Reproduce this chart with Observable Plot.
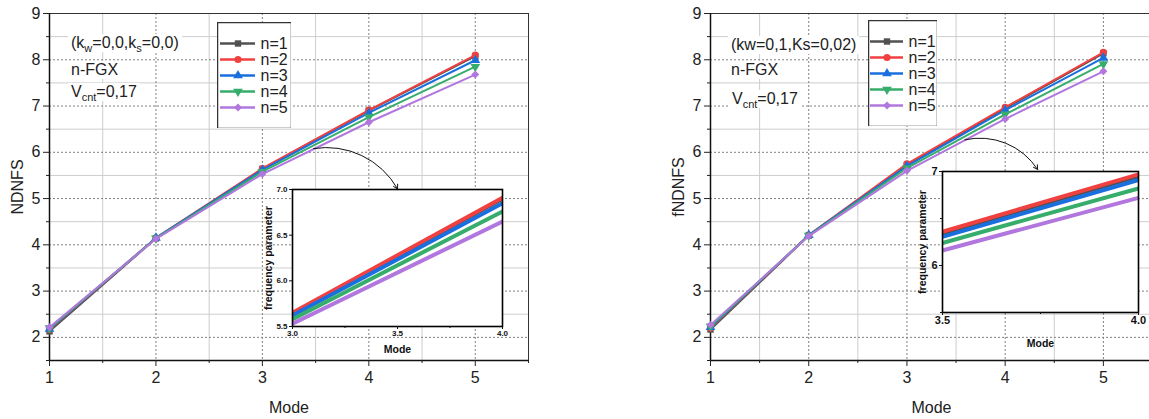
<!DOCTYPE html>
<html><head><meta charset="utf-8">
<script src="https://cdn.jsdelivr.net/npm/d3@7"></script>
<script src="https://cdn.jsdelivr.net/npm/@observablehq/plot@0.6"></script>
<style>
body{margin:0;background:#fff;}
#wrap{position:relative;width:1149px;height:419px;overflow:hidden;background:#fff;font-family:"Liberation Sans",Arial,sans-serif;}
.note{position:absolute;background:#fff;font-size:16px;line-height:18px;color:#222;padding:0 3px;white-space:nowrap;}
.note sub{font-size:11px;vertical-align:-4px;line-height:0;}
</style></head><body><div id="wrap"></div>
<script>
// ---------- data ----------
const modes = [1, 2, 3, 4, 5];
const seriesNames = ["n=1", "n=2", "n=3", "n=4", "n=5"];
const seriesColors = ["#515151", "#F14040", "#1A6FDF", "#37AD6B", "#B177DE"];
const seriesSymbols = ["square", "circle", "triangle", "triangle", "diamond2"];
const seriesRotate = [0, 0, 0, 180, 0];

// left panel: NDNFS (kw=0,0, ks=0,0)
const leftN1 = [2.13, 4.14, 5.64, 6.90, 8.08];
const leftN2 = [2.17, 4.15, 5.65, 6.91, 8.10];
const leftN3 = [2.18, 4.15, 5.62, 6.85, 7.99];
const leftN4 = [2.20, 4.14, 5.58, 6.76, 7.85];
const leftN5 = [2.22, 4.13, 5.53, 6.65, 7.68];

// right panel: fNDNFS (kw=0,1, Ks=0,02)
const rightN1 = [2.17, 4.20, 5.73, 6.95, 8.14];
const rightN2 = [2.20, 4.21, 5.75, 6.97, 8.16];
const rightN3 = [2.22, 4.21, 5.70, 6.91, 8.04];
const rightN4 = [2.24, 4.20, 5.66, 6.82, 7.91];
const rightN5 = [2.27, 4.19, 5.60, 6.72, 7.75];

// axes ticks
const majorX = [1, 2, 3, 4, 5];
const minorX = [1.5, 2.5, 3.5, 4.5, 5.5];
const majorY = [2, 3, 4, 5, 6, 7, 8, 9];
const minorY = [1.5, 2.5, 3.5, 4.5, 5.5, 6.5, 7.5, 8.5];
const mainXDomain = [1, 5.5];
const mainYDomain = [1.5, 9];

const leftInsetXTicks = [3.0, 3.5, 4.0];
const leftInsetXMinor = [3.25, 3.75];
const leftInsetYTicks = [5.5, 6.0, 6.5, 7.0];
const rightInsetXTicks = [3.5, 4.0];
const rightInsetXMinor = [3.75];
const rightInsetYTicks = [6, 7];
const rightInsetYMinor = [5.5, 6.5];

// annotation arrows (data units of each main panel)
const leftArrow = [{x1: 3.48, y1: 6.08, x2: 4.27, y2: 5.21}];
const rightArrow = [{x1: 3.59, y1: 6.27, x2: 4.33, y2: 5.63}];

// ---------- helpers ----------
const FONT = '"Liberation Sans", Arial, sans-serif';
const wrap = document.getElementById("wrap");
function place(el, left, top) {
  el.style.position = "absolute";
  el.style.left = left + "px";
  el.style.top = top + "px";
  wrap.appendChild(el);
}
function toRows(values) {
  const rows = [];
  seriesNames.forEach((s, i) => modes.forEach((m, j) => rows.push({mode: m, value: values[i][j], s, i})));
  return rows;
}

function mainPlot({width, mL, mR, values, yLabel, arrow}) {
  const rows = toRows(values);
  const seriesMarks = [];
  seriesNames.forEach((s, i) => {
    const d = rows.filter(r => r.s === s);
    seriesMarks.push(Plot.line(d, {x: "mode", y: "value", stroke: seriesColors[i], strokeWidth: 2}));
    seriesMarks.push(Plot.dot(d, {x: "mode", y: "value", fill: seriesColors[i], stroke: "none",
      symbol: seriesSymbols[i], rotate: seriesRotate[i], r: 3.6}));
  });
  return Plot.plot({
    width, height: 419,
    marginLeft: mL, marginRight: mR, marginTop: 13, marginBottom: 59,
    style: {fontFamily: FONT, fontSize: "16px", background: "transparent", color: "#222"},
    x: {domain: mainXDomain},
    y: {domain: mainYDomain},
    marks: [
      Plot.gridX(minorX, {stroke: "#cdcdcd", strokeOpacity: 1}),
      Plot.gridY(minorY, {stroke: "#cdcdcd", strokeOpacity: 1}),
      Plot.gridX(majorX, {stroke: "#808080", strokeOpacity: 1, strokeDasharray: "2,2"}),
      Plot.gridY(majorY, {stroke: "#808080", strokeOpacity: 1, strokeDasharray: "2,2"}),
      Plot.frame({stroke: "#333", strokeWidth: 1}),
      Plot.ruleX([mainXDomain[0]], {stroke: "#111", strokeWidth: 1.5}),
      Plot.ruleY([mainYDomain[0]], {stroke: "#111", strokeWidth: 1.5}),
      Plot.axisX(majorX, {tickSize: 6, tickPadding: 5, fontSize: 16, label: "Mode", labelAnchor: "center", labelArrow: "none", labelOffset: 52}),
      Plot.axisX(minorX, {tickSize: 3, text: null, label: null}),
      Plot.axisY(majorY, {tickSize: 6, tickPadding: 3, fontSize: 16, label: yLabel, labelAnchor: "center", labelArrow: "none", labelOffset: 38}),
      Plot.axisY(minorY, {tickSize: 3, text: null, label: null}),
      ...seriesMarks,
      Plot.arrow(arrow, {x1: "x1", y1: "y1", x2: "x2", y2: "y2", bend: 35, stroke: "#111", strokeWidth: 1, headLength: 7})
    ]
  });
}

function insetPlot({width, height, mL, mR, mT, mB, xDomain, yDomain, xTicks, xMinor, yTicks, yMinor, xFmt, yFmt, values, tickFont, labelFont, xLabelDy, yLabelDx}) {
  const rows = toRows(values);
  const lines = seriesNames.map((s, i) => Plot.line(rows.filter(r => r.s === s),
    {x: "mode", y: "value", stroke: seriesColors[i], strokeWidth: 4, clip: true}));
  const marks = [
    Plot.frame({fill: "white", stroke: "none"}),
    ...lines,
    Plot.frame({stroke: "#000", strokeWidth: 1.6}),
    Plot.axisX(xTicks, {tickSize: 3, tickPadding: 1, tickFormat: xFmt, fontSize: tickFont, fontWeight: "bold", label: null}),
    Plot.axisY(yTicks, {tickSize: 3, tickPadding: 2, tickFormat: yFmt, fontSize: tickFont, fontWeight: "bold", label: null}),
    Plot.text(["Mode"], {frameAnchor: "bottom", dy: xLabelDy, textAnchor: "middle", fontSize: labelFont, fontWeight: "bold", fill: "#111"}),
    Plot.text(["frequency parameter"], {frameAnchor: "left", dx: yLabelDx, rotate: -90, textAnchor: "middle", lineAnchor: "middle", fontSize: labelFont, fontWeight: "bold", fill: "#111"})
  ];
  if (xMinor) marks.push(Plot.axisX(xMinor, {tickSize: 2, text: null, label: null}));
  if (yMinor) marks.push(Plot.axisY(yMinor, {tickSize: 2, text: null, label: null}));
  return Plot.plot({
    width, height, marginLeft: mL, marginRight: mR, marginTop: mT, marginBottom: mB,
    style: {fontFamily: FONT, fontSize: tickFont + "px", fontWeight: "bold", background: "transparent", color: "#111", overflow: "visible"},
    x: {domain: xDomain},
    y: {domain: yDomain},
    marks
  });
}

function legendPlot({width, height, yRange, xRange}) {
  return Plot.plot({
    width, height, margin: 0,
    style: {fontFamily: FONT, fontSize: "16px", background: "white", color: "#222"},
    x: {domain: [0, 1], range: xRange, axis: null},
    y: {type: "point", domain: seriesNames, range: yRange, axis: null},
    color: {domain: seriesNames, range: seriesColors},
    symbol: {domain: seriesNames, range: seriesSymbols},
    marks: [
      Plot.frame({stroke: "#333", strokeWidth: 1.5}),
      Plot.ruleY(seriesNames, {y: d => d, x1: 0, x2: 1, stroke: d => d, strokeWidth: 2.5}),
      Plot.dot(seriesNames, {y: d => d, x: 0.5, fill: d => d, stroke: "none", symbol: d => d,
        rotate: (d, i) => seriesRotate[i], r: 3.6}),
      Plot.text(seriesNames, {y: d => d, x: 1, dx: 5, textAnchor: "start", fontSize: 16, fill: "#222"})
    ]
  });
}

function note(html, left, top) {
  const d = document.createElement("div");
  d.className = "note";
  d.innerHTML = html;
  d.style.left = left + "px";
  d.style.top = top + "px";
  wrap.appendChild(d);
}

// ---------- left panel ----------
place(mainPlot({width: 560, mL: 49, mR: 32, yLabel: "NDNFS",
  values: [leftN1, leftN2, leftN3, leftN4, leftN5], arrow: leftArrow}), 0, 0);

// ---------- right panel ----------
place(mainPlot({width: 580, mL: 130, mR: 8, yLabel: "fNDNFS",
  values: [rightN1, rightN2, rightN3, rightN4, rightN5], arrow: rightArrow}), 580, 0);

// annotations
note("(k<sub>w</sub>=0,0,k<sub>s</sub>=0,0)", 68, 34);
note("n-FGX", 68, 61);
note("V<sub>cnt</sub>=0,17", 68, 83);
note("(kw=0,1,Ks=0,02)", 728, 36);
note("n-FGX", 728, 61);
note("V<sub>cnt</sub>=0,17", 729, 90);

// legends
place(legendPlot({width: 74, height: 106, yRange: [11, 94], xRange: [3, 38]}), 217, 22);
place(legendPlot({width: 69, height: 106, yRange: [12, 94], xRange: [2, 35]}), 868, 20);

// insets
place(insetPlot({width: 260, height: 180, mL: 40, mR: 10, mT: 5, mB: 38,
  xDomain: [3.0, 4.0], yDomain: [5.5, 7.0], xTicks: leftInsetXTicks, xMinor: leftInsetXMinor,
  yTicks: leftInsetYTicks, yMinor: null, xFmt: d3.format(".1f"), yFmt: d3.format(".1f"),
  values: [leftN1, leftN2, leftN3, leftN4, leftN5], tickFont: 8, labelFont: 10.5,
  xLabelDy: 26, yLabelDx: -24}), 252, 184);

place(insetPlot({width: 250, height: 190, mL: 40, mR: 14, mT: 5, mB: 44,
  xDomain: [3.5, 4.0], yDomain: [5.5, 7.0], xTicks: rightInsetXTicks, xMinor: rightInsetXMinor,
  yTicks: rightInsetYTicks, yMinor: rightInsetYMinor, xFmt: d3.format(".1f"), yFmt: d3.format("d"),
  values: [rightN1, rightN2, rightN3, rightN4, rightN5], tickFont: 11, labelFont: 10.5,
  xLabelDy: 34, yLabelDx: -20}), 902, 166);
</script></body></html>
